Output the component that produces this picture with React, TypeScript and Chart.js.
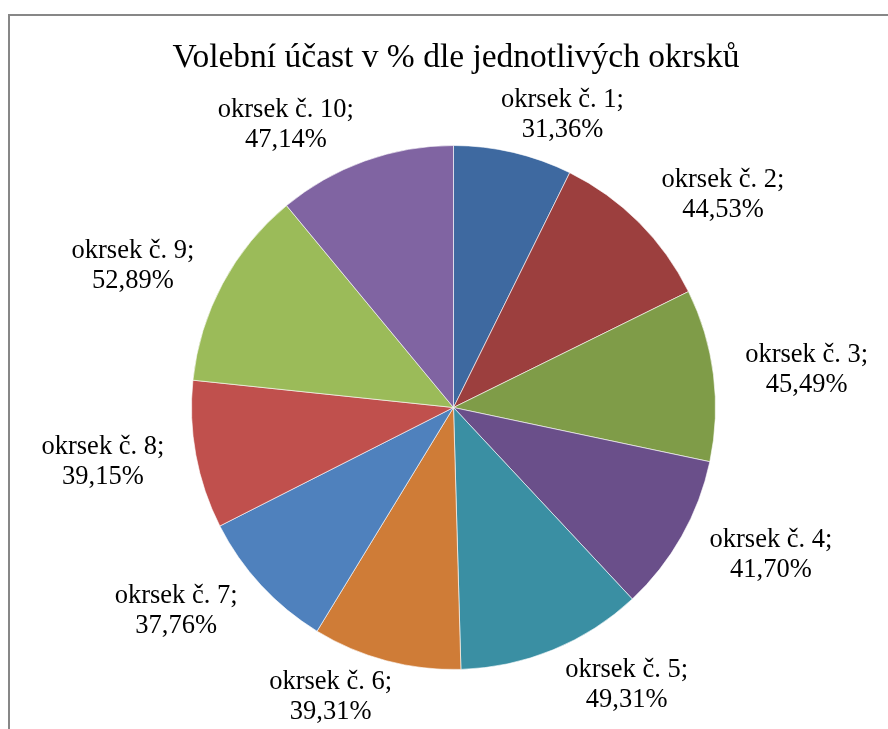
import React, { useEffect, useRef } from "react";
import { Chart, registerables } from "chart.js";

Chart.register(...registerables);

const TITLE = "Volební účast v % dle jednotlivých okrsků";
const categories = [
  "okrsek č. 1",
  "okrsek č. 2",
  "okrsek č. 3",
  "okrsek č. 4",
  "okrsek č. 5",
  "okrsek č. 6",
  "okrsek č. 7",
  "okrsek č. 8",
  "okrsek č. 9",
  "okrsek č. 10",
];
const turnout = [31.36, 44.53, 45.49, 41.7, 49.31, 39.31, 37.76, 39.15, 52.89, 47.14];
const colors = [
  "#3E69A0",
  "#9C3F3E",
  "#7F9C48",
  "#6A4F8A",
  "#3A8FA3",
  "#CF7C37",
  "#4F81BD",
  "#C0504D",
  "#9BBB59",
  "#8064A2",
];

const FONT = '"Liberation Serif", "Times New Roman", serif';

const fmt = (v: number) => v.toFixed(2).replace(".", ",") + "%";

const decorPlugin = {
  id: "decor",
  beforeDraw(chart: any) {
    const ctx = chart.ctx;
    ctx.save();
    ctx.fillStyle = "#ffffff";
    ctx.fillRect(0, 0, chart.width, chart.height);
    ctx.strokeStyle = "#878787";
    ctx.lineWidth = 2;
    ctx.strokeRect(9, 15, chart.width + 20, chart.height + 20);
    ctx.restore();
  },
  afterDraw(chart: any) {
    const ctx = chart.ctx;
    ctx.save();
    // title
    ctx.fillStyle = "#000";
    ctx.font = `33.5px ${FONT}`;
    ctx.textAlign = "center";
    ctx.textBaseline = "alphabetic";
    ctx.fillText(TITLE, 456, 67);

    // labels
    const meta = chart.getDatasetMeta(0);
    ctx.font = `26.5px ${FONT}`;
    const lineH = 30;
    meta.data.forEach((arc: any, i: number) => {
      const { x, y, startAngle, endAngle, outerRadius } = arc.getProps(
        ["x", "y", "startAngle", "endAngle", "outerRadius"],
        true
      );
      const mid = (startAngle + endAngle) / 2;
      const dx = Math.cos(mid);
      const dy = Math.sin(mid);
      const lines = [categories[i] + ";", fmt(turnout[i])];
      const w = Math.max(...lines.map((l) => ctx.measureText(l).width));
      const h = lines.length * lineH;
      const px = x + dx * (outerRadius + 32);
      const py = y + dy * (outerRadius + 8);
      const cx = px + Math.max(-1, Math.min(1, dx * 3)) * (w / 2);
      const cy = py + dy * (h / 2);
      ctx.textAlign = "center";
      ctx.textBaseline = "middle";
      lines.forEach((l, j) => {
        ctx.fillText(l, cx, cy - h / 2 + lineH * (j + 0.5));
      });
    });
    ctx.restore();
  },
};

export default function App() {
  const ref = useRef<HTMLCanvasElement | null>(null);
  useEffect(() => {
    if (!ref.current) return;
    const chart = new Chart(ref.current, {
      type: "pie",
      data: {
        labels: categories,
        datasets: [
          {
            data: turnout,
            backgroundColor: colors,
            borderColor: "rgba(255,255,255,0.6)",
            borderWidth: 1,
          },
        ],
      },
      options: {
        responsive: false,
        animation: false,
        rotation: 0,
        layout: {
          padding: { top: 145, bottom: 59, left: 191, right: 172 },
        },
        plugins: {
          legend: { display: false },
          title: { display: false },
          tooltip: { enabled: false },
        },
      },
      plugins: [decorPlugin],
    });
    return () => chart.destroy();
  }, []);
  return (
    <div style={{ position: "absolute", left: 0, top: 0, width: 888, height: 729, background: "#fff" }}>
      <canvas ref={ref} width={888} height={729} style={{ display: "block" }} />
    </div>
  );
}
